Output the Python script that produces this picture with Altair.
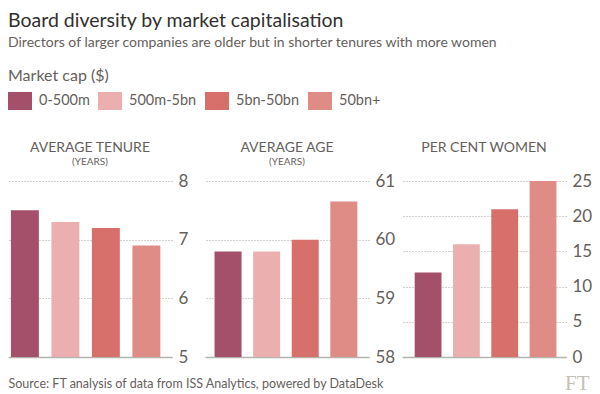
import altair as alt
import pandas as pd

categories = ["0-500m", "500m-5bn", "5bn-50bn", "50bn+"]
colors = ["#a5506a", "#ebafaf", "#d76f6b", "#e08c86"]

tenure = [7.5, 7.3, 7.2, 6.9]
age = [59.8, 59.8, 60.0, 60.65]
women = [12, 16, 21, 25]

tenure_ticks = [5, 6, 7, 8]
age_ticks = [58, 59, 60, 61]
women_ticks = [0, 5, 10, 15, 20, 25]

source_text = "Source: FT analysis of data from ISS Analytics, powered by DataDesk"

FONT = "Lato, Roboto, sans-serif"
GREY = "#66605c"

color_scale = alt.Scale(domain=categories, range=colors)
legend = alt.Legend(
    title="Market cap ($)", orient="top", direction="horizontal",
    symbolType="M-1,-0.75L1,-0.75L1,0.75L-1,0.75Z", symbolSize=576,
    symbolStrokeWidth=0, symbolOpacity=1,
    labelFontSize=14.5, labelColor=GREY, labelFont=FONT,
    titleFontSize=16, titleFontWeight="normal", titleColor=GREY, titleFont=FONT,
    labelOffset=7, columnPadding=8, titlePadding=5, offset=31,
)


def panel(values, ticks, title, subtitle, pi, po, align, title_offset, xaxis_extra):
    df = pd.DataFrame({"cap": categories, "value": values})
    tp = dict(text=title, fontSize=14, fontWeight="normal", color=GREY,
              anchor="middle", offset=title_offset, font=FONT)
    if subtitle:
        tp.update(subtitle=subtitle, subtitleFontSize=10, subtitleColor=GREY,
                  subtitlePadding=2, subtitleFont=FONT)
    xaxis = dict(labels=False, ticks=False, domain=True,
                 domainColor="#b4b4ae", domainWidth=1.5, grid=False)
    xaxis.update(xaxis_extra)
    return alt.Chart(df).mark_bar().encode(
        x=alt.X("cap:N", sort=categories,
                scale=alt.Scale(paddingInner=pi, paddingOuter=po, align=align),
                axis=alt.Axis(**xaxis)),
        y=alt.Y("value:Q",
                scale=alt.Scale(domain=[ticks[0], ticks[-1]], nice=False, zero=False),
                axis=alt.Axis(orient="right", values=ticks, title=None, domain=False,
                              ticks=False, labelPadding=6, grid=True, gridDash=[1, 2],
                              gridColor="#aaa49c", labelFontSize=17, labelColor=GREY,
                              labelFont=FONT)),
        y2=alt.datum(ticks[0]),
        color=alt.Color("cap:N", scale=color_scale, sort=categories, legend=legend),
    ).properties(width=164, height=176, title=alt.TitleParams(**tp))


p1 = panel(tenure, tenure_ticks, "AVERAGE TENURE", "(YEARS)", 0.31, 0.18, 0.2, 5,
           dict(title=source_text, titleAnchor="start", titleAlign="left", titleX=0,
                titleY=26, titleBaseline="middle", titleFontSize=12.5,
                titleFontWeight="normal", titleColor=GREY, titleFont=FONT))
p2 = panel(age, age_ticks, "AVERAGE AGE", "(YEARS)", 0.3, 0.275, 0.45, 5,
           dict(title=None))
p3 = panel(women, women_ticks, "PER CENT WOMEN", None, 0.3, 0.29, 0.57, 17,
           dict(title="FT", titleAnchor="end", titleAlign="right", titleX=187,
                titleY=26, titleBaseline="middle", titleFontSize=21,
                titleFontWeight="normal", titleColor="#c5bfb8",
                titleFont="Liberation Serif"))

chart = alt.hconcat(p1, p2, p3, spacing=33, bounds="flush").properties(
    padding={"left": 0, "top": 2, "right": 0, "bottom": 0},
    title=alt.TitleParams(
        text="Board diversity by market capitalisation",
        subtitle="Directors of larger companies are older but in shorter tenures with more women",
        anchor="start", fontSize=19.5, fontWeight="normal", color="#33302e", font=FONT,
        subtitleFontSize=14, subtitleColor=GREY, subtitleFont=FONT, subtitlePadding=5,
        offset=17,
    ),
).configure_view(strokeWidth=0)

chart.save("out.html", embed_options={"renderer": "svg", "actions": False})
